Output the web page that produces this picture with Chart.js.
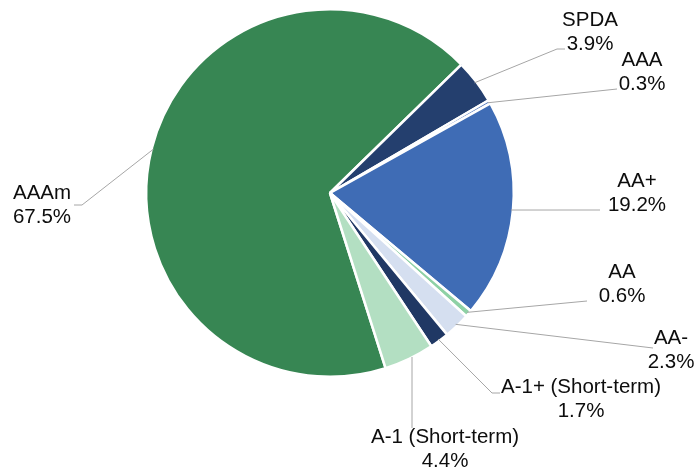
<!DOCTYPE html>
<html>
<head>
<meta charset="utf-8">
<script src="https://cdn.jsdelivr.net/npm/chart.js@4"></script>
<style>
  html, body { margin: 0; padding: 0; background: #fff; }
  #wrap { width: 698px; height: 468px; position: relative; }
</style>
</head>
<body>
<div id="wrap"><canvas id="pie"></canvas></div>
<script>
// ── data ────────────────────────────────────────────────────────────────
const categories = ['AAAm', 'SPDA', 'AAA', 'AA+', 'AA', 'AA-', 'A-1+ (Short-term)', 'A-1 (Short-term)'];
const shares     = [67.5, 3.9, 0.3, 19.2, 0.6, 2.3, 1.7, 4.4];
const pctLabels  = ['67.5%', '3.9%', '0.3%', '19.2%', '0.6%', '2.3%', '1.7%', '4.4%'];

// ── styling / layout ────────────────────────────────────────────────────
const colors = ['#378653', '#243F6E', '#5B7FC0', '#3F6CB5', '#8ED1A5', '#D5DFF0', '#203864', '#B3DFC2'];

// label text centre (first line) + elbow point of leader line
const labelLayout = [
  { x: 42,  y: 193, elbow: [82, 205],  end: [74, 205] },
  { x: 590, y: 20,  elbow: [557, 49],  end: [565, 49] },
  { x: 642, y: 60,  elbow: [617, 89],  end: [617, 89] },
  { x: 637, y: 181, elbow: [600, 210], end: [600, 210] },
  { x: 622, y: 272, elbow: [587, 301], end: [587, 301] },
  { x: 671, y: 338, elbow: [653, 348], end: [653, 348] },
  { x: 581, y: 387, elbow: [492, 393], end: [500, 393] },
  { x: 445, y: 437, elbow: [412, 428], end: [412, 428] }
];

// ── leader-line labels ──────────────────────────────────────────────────
const leaderLabels = {
  id: 'leaderLabels',
  afterDraw(chart) {
    const ctx = chart.ctx;
    const arcs = chart.getDatasetMeta(0).data;
    ctx.save();
    arcs.forEach((arc, i) => {
      const lay = labelLayout[i];
      const mid = (arc.startAngle + arc.endAngle) / 2;
      const r = arc.outerRadius - 2;
      let ax = arc.x + Math.cos(mid) * r;
      let ay = arc.y + Math.sin(mid) * r;
      if (i === 7) ax = lay.elbow[0];  // A-1 has a vertical leader
      ctx.strokeStyle = '#A6A6A6';
      ctx.lineWidth = 1;
      ctx.beginPath();
      ctx.moveTo(ax, ay);
      ctx.lineTo(lay.elbow[0], lay.elbow[1]);
      ctx.lineTo(lay.end[0], lay.end[1]);
      ctx.stroke();

      ctx.fillStyle = '#0d0d0d';
      ctx.font = '20.5px "Liberation Sans", Arial, sans-serif';
      ctx.textAlign = 'center';
      ctx.textBaseline = 'middle';
      ctx.fillText(categories[i], lay.x, lay.y);
      ctx.fillText(pctLabels[i], lay.x, lay.y + 24.5);
    });
    ctx.restore();
  }
};

new Chart(document.getElementById('pie'), {
  type: 'pie',
  data: {
    labels: categories,
    datasets: [{
      data: shares,
      backgroundColor: colors,
      borderColor: '#ffffff',
      borderWidth: 2.5
    }]
  },
  options: {
    responsive: true,
    maintainAspectRatio: false,
    animation: false,
    rotation: 162.4,
    layout: { padding: { left: 145, right: 183, top: 8, bottom: 90 } },
    plugins: {
      legend: { display: false },
      tooltip: { enabled: false }
    }
  },
  plugins: [leaderLabels]
});
</script>
</body>
</html>
